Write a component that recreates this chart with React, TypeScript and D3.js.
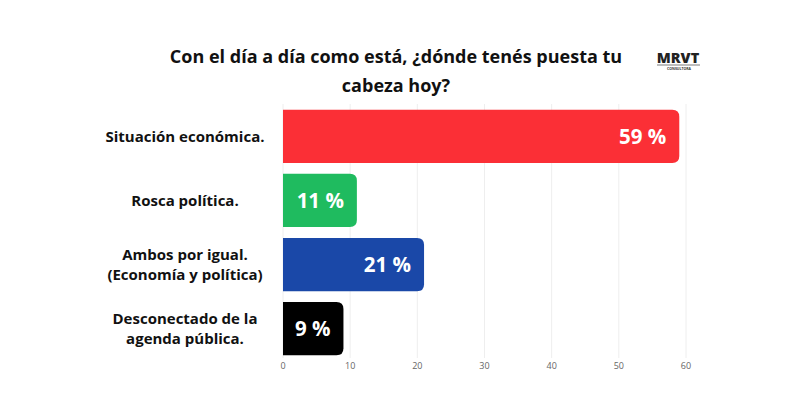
import React from "react";
import * as d3 from "d3";

const categories = [
  ["Situación económica."],
  ["Rosca política."],
  ["Ambos por igual.", "(Economía y política)"],
  ["Desconectado de la", "agenda pública."],
];
const values = [59, 11, 21, 9];
const colors = ["#fb2f36", "#1fbb5f", "#1a48a8", "#000000"];
const ticks = [0, 10, 20, 30, 40, 50, 60];
const titleLines = ["Con el día a día como está, ¿dónde tenés puesta tu", "cabeza hoy?"];

const W = 800, H = 405;
const FONT = "'Open Sans', 'Noto Sans', sans-serif";

function barPath(x0: number, x1: number, y: number, h: number, r: number) {
  const rr = Math.min(r, (x1 - x0) / 2, h / 2);
  return `M${x0},${y}H${x1 - rr}Q${x1},${y} ${x1},${y + rr}V${y + h - rr}Q${x1},${y + h} ${x1 - rr},${y + h}H${x0}Z`;
}

export default function App() {
  const x = d3.scaleLinear().domain([0, 60]).range([283, 686]);
  const y = d3
    .scaleBand<number>()
    .domain(d3.range(values.length))
    .range([104, 361])
    .paddingInner(0.17)
    .paddingOuter(0.09);
  return (
    <svg width={W} height={H} style={{ display: "block", position: "absolute", left: 0, top: 0 }}>
      <rect width={W} height={H} fill="#fff" />
      {ticks.map((t) => (
        <g key={t}>
          <line x1={x(t)} x2={x(t)} y1={104} y2={358} stroke="#eeeeee" strokeWidth={1} />
          <text x={x(t)} y={369} textAnchor="middle" fontSize={9} fill="#666" fontFamily={FONT}>
            {t}
          </text>
        </g>
      ))}
      {titleLines.map((l, i) => (
        <text
          key={i}
          x={396}
          y={63 + i * 29}
          textAnchor="middle"
          fontSize={18}
          fontWeight={700}
          fill="#111"
          fontFamily={FONT}
        >
          {l}
        </text>
      ))}
      <text x={678} y={63} textAnchor="middle" fontSize={14.5} fontWeight={800} fill="#222" fontFamily={FONT}>
        MRVT
      </text>
      <line x1={657} x2={700} y1={65} y2={65} stroke="#222" strokeWidth={0.6} />
      <text x={679} y={70} textAnchor="middle" fontSize={3.5} fontWeight={700} fill="#333" fontFamily={FONT}>
        CONSULTORA
      </text>
      {values.map((v, i) => {
        const y0 = y(i)!;
        const h = y.bandwidth();
        const cy = y0 + h / 2;
        const lines = categories[i];
        return (
          <g key={i}>
            <path d={barPath(x(0), x(v), y0, h, 7)} fill={colors[i]} />
            <text
              x={x(v) - 13}
              y={cy}
              dy="0.36em"
              textAnchor="end"
              fontSize={20.5}
              fontWeight={700}
              fill="#fff"
              fontFamily={FONT}
            >
              {v} %
            </text>
            {lines.map((l, j) => (
              <text
                key={j}
                x={185}
                y={cy + (j - (lines.length - 1) / 2) * 20}
                dy="0.36em"
                textAnchor="middle"
                fontSize={15}
                fontWeight={700}
                fill="#111"
                fontFamily={FONT}
              >
                {l}
              </text>
            ))}
          </g>
        );
      })}
    </svg>
  );
}
